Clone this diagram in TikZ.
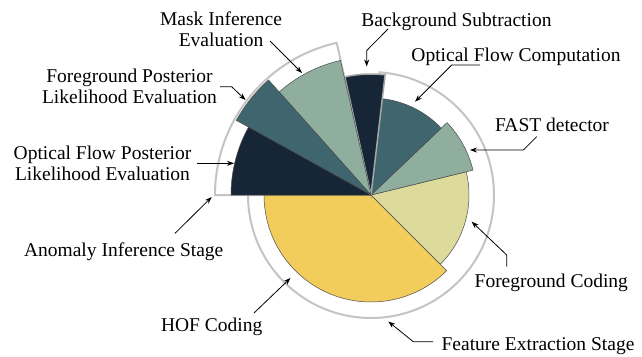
\documentclass[tikz,border=0pt]{standalone}
\usepackage{fontspec}
\setmainfont{Liberation Serif}
\usetikzlibrary{arrows.meta}
\definecolor{cnavy}{HTML}{172637}
\definecolor{cteal}{HTML}{3F666E}
\definecolor{csage}{HTML}{8FAE9E}
\definecolor{cpale}{HTML}{DCDB9B}
\definecolor{cyell}{HTML}{F2CD5B}
\definecolor{cring}{HTML}{C4C4C4}
\tikzset{
  lbl/.style={inner sep=0pt, align=center, font=\fontsize{19.5}{21}\selectfont, text=black},
  arr/.style={draw=black, line width=0.8pt, -{Stealth[length=7pt,width=5pt]}},
  ringsec/.style={fill=white, draw=cring, line width=2pt},
  wedge/.style={draw=black!70, line width=0.5pt},
}
\begin{document}
\begin{tikzpicture}[x=1pt,y=-1pt]
\useasboundingbox (0,0) rectangle (642,356);
\begin{scope}[shift={(371,195)}, yscale=-1]
  % stage rings
  \draw[ringsec] (0,0) -- (102.7:156) arc[start angle=102.7, end angle=180, radius=156] -- cycle;
  \draw[ringsec] (0,0) -- (-180:123) arc[start angle=-180, end angle=86, radius=123] -- cycle;
  % feature extraction wedges
  \draw[wedge, fill=cyell] (0,0) -- (180:107) arc[start angle=180, end angle=315, radius=107] -- cycle;
  \draw[wedge, fill=cpale] (0,0) -- (-45:98) arc[start angle=-45, end angle=13.7, radius=98] -- cycle;
  \draw[wedge, fill=csage] (0,0) -- (13.7:105) arc[start angle=13.7, end angle=43.6, radius=105] -- cycle;
  \draw[wedge, fill=cteal] (0,0) -- (43.6:97) arc[start angle=43.6, end angle=83.3, radius=97] -- cycle;
  \draw[draw=black!35, line width=1.5pt, fill=cnavy] (0,0) -- (83.3:121) arc[start angle=83.3, end angle=102.5, radius=121] -- cycle;
  % anomaly inference wedges
  \draw[wedge, fill=csage] (0,0) -- (102.8:138) arc[start angle=102.8, end angle=131.7, radius=138] -- cycle;
  \draw[wedge, fill=cteal] (0,0) -- (131.7:154) arc[start angle=131.7, end angle=151, radius=154] -- cycle;
  \draw[wedge, fill=cnavy] (0,0) -- (151:140) arc[start angle=151, end angle=180, radius=140] -- cycle;
\end{scope}

% labels (base = baseline of last line)
\node[lbl, anchor=base] (mask) at (221,46) {Mask Inference\\Evaluation};
\node[lbl, anchor=base] (bg) at (456.5,26) {Background Subtraction};
\node[lbl, anchor=base] (ofc) at (516,61) {Optical Flow Computation};
\node[lbl, anchor=base] (fast) at (552,131) {FAST detector};
\node[lbl, anchor=base] (fgc) at (551.3,287.3) {Foreground Coding};
\node[lbl, anchor=base] (fes) at (538,350) {Feature Extraction Stage};
\node[lbl, anchor=base] (hof) at (211.7,331.7) {HOF Coding};
\node[lbl, anchor=base] (ais) at (123.7,256.7) {Anomaly Inference Stage};
\node[lbl, anchor=base] (ofp) at (102.5,180.5) {Optical Flow Posterior\\Likelihood Evaluation};
\node[lbl, anchor=base] (fgp) at (129.5,103.5) {Foreground Posterior\\Likelihood Evaluation};

% arrow end points
\coordinate (mask-s) at (270,41);   \coordinate (mask-t) at (302,73);
\coordinate (bg-s) at (388,29);     \coordinate (bg-b) at (366.7,50.5);  \coordinate (bg-t) at (366.7,66.5);
\coordinate (ofc-s) at (480,65);    \coordinate (ofc-b) at (451.7,65);   \coordinate (ofc-t) at (415,101.7);
\coordinate (fast-s) at (536.7,136.7); \coordinate (fast-b) at (523.3,150); \coordinate (fast-t) at (470,150);
\coordinate (fgc-s) at (506.7,266.7); \coordinate (fgc-b) at (506.7,255); \coordinate (fgc-t) at (471.7,221.7);
\coordinate (fes-s) at (433,341.7); \coordinate (fes-b) at (413.3,341.7); \coordinate (fes-t) at (388.3,321.5);
\coordinate (hof-s) at (254,313);   \coordinate (hof-t) at (290.5,278);
\coordinate (ais-s) at (175,233.3); \coordinate (ais-t) at (211.7,197);
\coordinate (ofp-s) at (196.7,163.3); \coordinate (ofp-t) at (234,163.3);
\coordinate (fgp-s) at (220,86.7);  \coordinate (fgp-b) at (231.7,86.7); \coordinate (fgp-t) at (245.5,100);

\draw[arr] (mask-s) -- (mask-t);
\draw[arr] (bg-s) -- (bg-b) -- (bg-t);
\draw[arr] (ofc-s) -- (ofc-b) -- (ofc-t);
\draw[arr] (fast-s) -- (fast-b) -- (fast-t);
\draw[arr] (fgc-s) -- (fgc-b) -- (fgc-t);
\draw[arr] (fes-s) -- (fes-b) -- (fes-t);
\draw[arr] (hof-s) -- (hof-t);
\draw[arr] (ais-s) -- (ais-t);
\draw[arr] (ofp-s) -- (ofp-t);
\draw[arr] (fgp-s) -- (fgp-b) -- (fgp-t);
\end{tikzpicture}
\end{document}
